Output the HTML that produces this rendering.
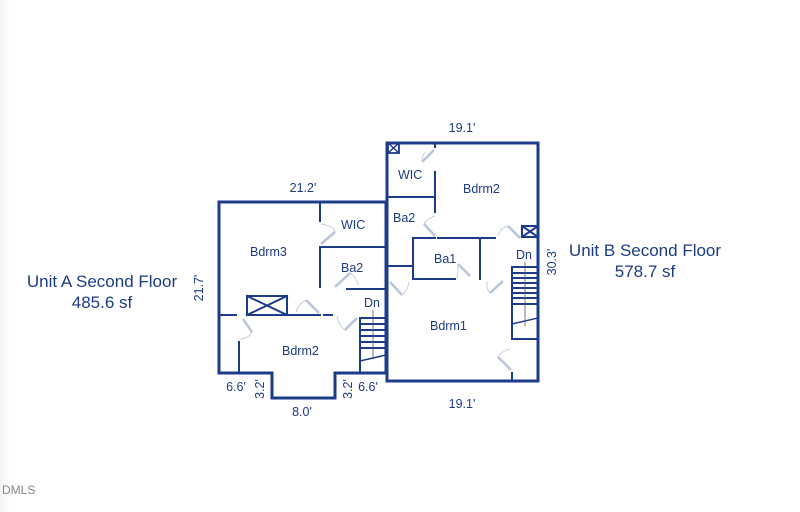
<!DOCTYPE html>
<html><head><meta charset="utf-8"><style>
html,body{margin:0;padding:0;background:#fff;}
svg{display:block;}
text{font-family:"Liberation Sans",Arial,sans-serif;fill:#1c3b82;}
</style></head><body>
<svg width="800" height="512" viewBox="0 0 800 512" xmlns="http://www.w3.org/2000/svg">
<defs><linearGradient id="g" x1="0" x2="1" y1="0" y2="0"><stop offset="0" stop-color="#f3f3f3"/><stop offset="1" stop-color="#fff"/></linearGradient></defs>
<rect width="800" height="512" fill="#fff"/>
<rect x="0" y="0" width="10" height="512" fill="url(#g)"/>
<g stroke="#1c3b8a" fill="none" stroke-linecap="square">
<path d="M219 202 H386 V373 H335 V398 H272 V373 H219 Z" stroke-width="3"/>
<path d="M387 143 H538 V381 H387 Z" stroke-width="3"/>
<g stroke-width="2">
<line x1="320" y1="202" x2="320" y2="221"/>
<line x1="320" y1="249" x2="320" y2="287"/>
<line x1="320" y1="247" x2="386" y2="247"/>
<line x1="347" y1="289" x2="386" y2="289"/>
<line x1="219" y1="315" x2="236" y2="315"/>
<line x1="247" y1="315" x2="320" y2="315"/>
<line x1="324" y1="315" x2="332" y2="315"/>
<line x1="239" y1="342" x2="239" y2="373"/>
<rect x="247" y="296" width="40" height="19"/>
<line x1="247" y1="296" x2="287" y2="315"/><line x1="287" y1="296" x2="247" y2="315"/>
<line x1="360" y1="318" x2="360" y2="373"/>
<line x1="360" y1="318" x2="386" y2="318"/>
<line x1="360" y1="324" x2="386" y2="324"/>
<line x1="360" y1="330" x2="386" y2="330"/>
<line x1="360" y1="336" x2="386" y2="336"/>
<line x1="360" y1="342" x2="386" y2="342"/>
<line x1="360" y1="348" x2="386" y2="348"/>
<line x1="360" y1="361" x2="386" y2="355" stroke-width="1.5"/>
</g>
<line x1="373" y1="310" x2="373" y2="359" stroke-width="0.8" stroke="#555"/>
<g stroke-width="2">
<line x1="435" y1="143" x2="435" y2="147"/>
<line x1="435" y1="172" x2="435" y2="212"/>
<line x1="387" y1="197" x2="435" y2="197"/>
<line x1="387" y1="266" x2="413" y2="266"/>
<line x1="413" y1="238" x2="435" y2="238"/>
<line x1="438" y1="238" x2="480" y2="238"/>
<line x1="480" y1="238" x2="495" y2="238"/>
<line x1="413" y1="238" x2="413" y2="279"/>
<line x1="480" y1="238" x2="480" y2="279"/>
<line x1="413" y1="279" x2="455" y2="279"/>
<rect x="522" y="226" width="16" height="11"/>
<line x1="522" y1="226" x2="538" y2="237"/><line x1="538" y1="226" x2="522" y2="237"/>
<rect x="388" y="143" width="11" height="10" stroke-width="1.8"/>
<line x1="388" y1="143" x2="399" y2="153" stroke-width="1.5"/><line x1="399" y1="143" x2="388" y2="153" stroke-width="1.5"/>
<line x1="512" y1="267" x2="512" y2="339"/>
<line x1="512" y1="339" x2="538" y2="339"/>
<line x1="512" y1="267" x2="538" y2="267"/>
<line x1="512" y1="273" x2="538" y2="273"/>
<line x1="512" y1="278" x2="538" y2="278"/>
<line x1="512" y1="283" x2="538" y2="283"/>
<line x1="512" y1="288" x2="538" y2="288"/>
<line x1="512" y1="293" x2="538" y2="293"/>
<line x1="512" y1="298" x2="538" y2="298"/>
<line x1="512" y1="304" x2="538" y2="304"/>
<line x1="512" y1="324" x2="538" y2="318" stroke-width="1.5"/>
<line x1="512" y1="373" x2="512" y2="381"/>
</g>
<line x1="525" y1="262" x2="525" y2="326" stroke-width="0.8" stroke="#555"/>
</g>
<g stroke="#b8c4d8" stroke-width="2.5" fill="none">
<line x1="321" y1="244" x2="335" y2="232"/><path d="M321 224 Q335 226 335 232" stroke-width="0.8"/>
<line x1="335" y1="287" x2="350" y2="273"/><path d="M350 273 Q357 278 358 285" stroke-width="0.8"/>
<line x1="306" y1="300" x2="319" y2="313"/><path d="M306 300 Q298 304 296 312" stroke-width="0.8"/>
<line x1="345" y1="330" x2="357" y2="318"/><path d="M345 330 Q338 325 337 316" stroke-width="0.8"/>
<line x1="243" y1="319" x2="252" y2="332"/><path d="M252 332 Q248 339 240 339" stroke-width="0.8"/>
<line x1="422" y1="162" x2="434" y2="150"/><path d="M422 162 Q422 155 425 152" stroke-width="0.8"/>
<line x1="424" y1="224" x2="435" y2="236"/><path d="M424 224 Q428 218 435 216" stroke-width="0.8"/>
<line x1="458" y1="264" x2="470" y2="276"/><path d="M458 264 Q458 272 457 279" stroke-width="0.8"/>
<line x1="508" y1="226" x2="520" y2="238"/><path d="M508 226 Q500 228 498 236" stroke-width="0.8"/>
<line x1="490" y1="293" x2="503" y2="281"/><path d="M490 293 Q486 289 487 281" stroke-width="0.8"/>
<line x1="390" y1="282" x2="402" y2="295"/><path d="M402 295 Q408 290 409 282" stroke-width="0.8"/>
<line x1="498" y1="357" x2="511" y2="370"/><path d="M498 357 Q502 351 510 349" stroke-width="0.8"/>
</g>
<g font-size="12.5">
<text x="341" y="229">WIC</text>
<text x="250" y="256">Bdrm3</text>
<text x="341" y="272">Ba2</text>
<text x="364" y="307">Dn</text>
<text x="282" y="355">Bdrm2</text>
<text x="398" y="179">WIC</text>
<text x="463" y="193">Bdrm2</text>
<text x="393" y="222">Ba2</text>
<text x="434" y="263">Ba1</text>
<text x="516" y="259">Dn</text>
<text x="430" y="330">Bdrm1</text>
</g>
<g font-size="12.5">
<text x="303" y="192" text-anchor="middle">21.2'</text>
<text x="462" y="132" text-anchor="middle">19.1'</text>
<text x="462" y="408" text-anchor="middle">19.1'</text>
<text x="236" y="391" text-anchor="middle">6.6'</text>
<text x="368" y="391" text-anchor="middle">6.6'</text>
<text x="302" y="416" text-anchor="middle">8.0'</text>
<text transform="translate(264,389) rotate(-90)" text-anchor="middle">3.2'</text>
<text transform="translate(352,389) rotate(-90)" text-anchor="middle">3.2'</text>
<text transform="translate(203,288) rotate(-90)" text-anchor="middle">21.7'</text>
<text transform="translate(556,262) rotate(-90)" text-anchor="middle">30.3'</text>
</g>
<g font-size="17" text-anchor="middle">
<text x="102" y="287">Unit A Second Floor</text>
<text x="102" y="308">485.6 sf</text>
<text x="645" y="256">Unit B Second Floor</text>
<text x="645" y="277">578.7 sf</text>
</g>
<text x="2" y="494" font-size="12" style="fill:#888">DMLS</text>
</svg>
</body></html>
